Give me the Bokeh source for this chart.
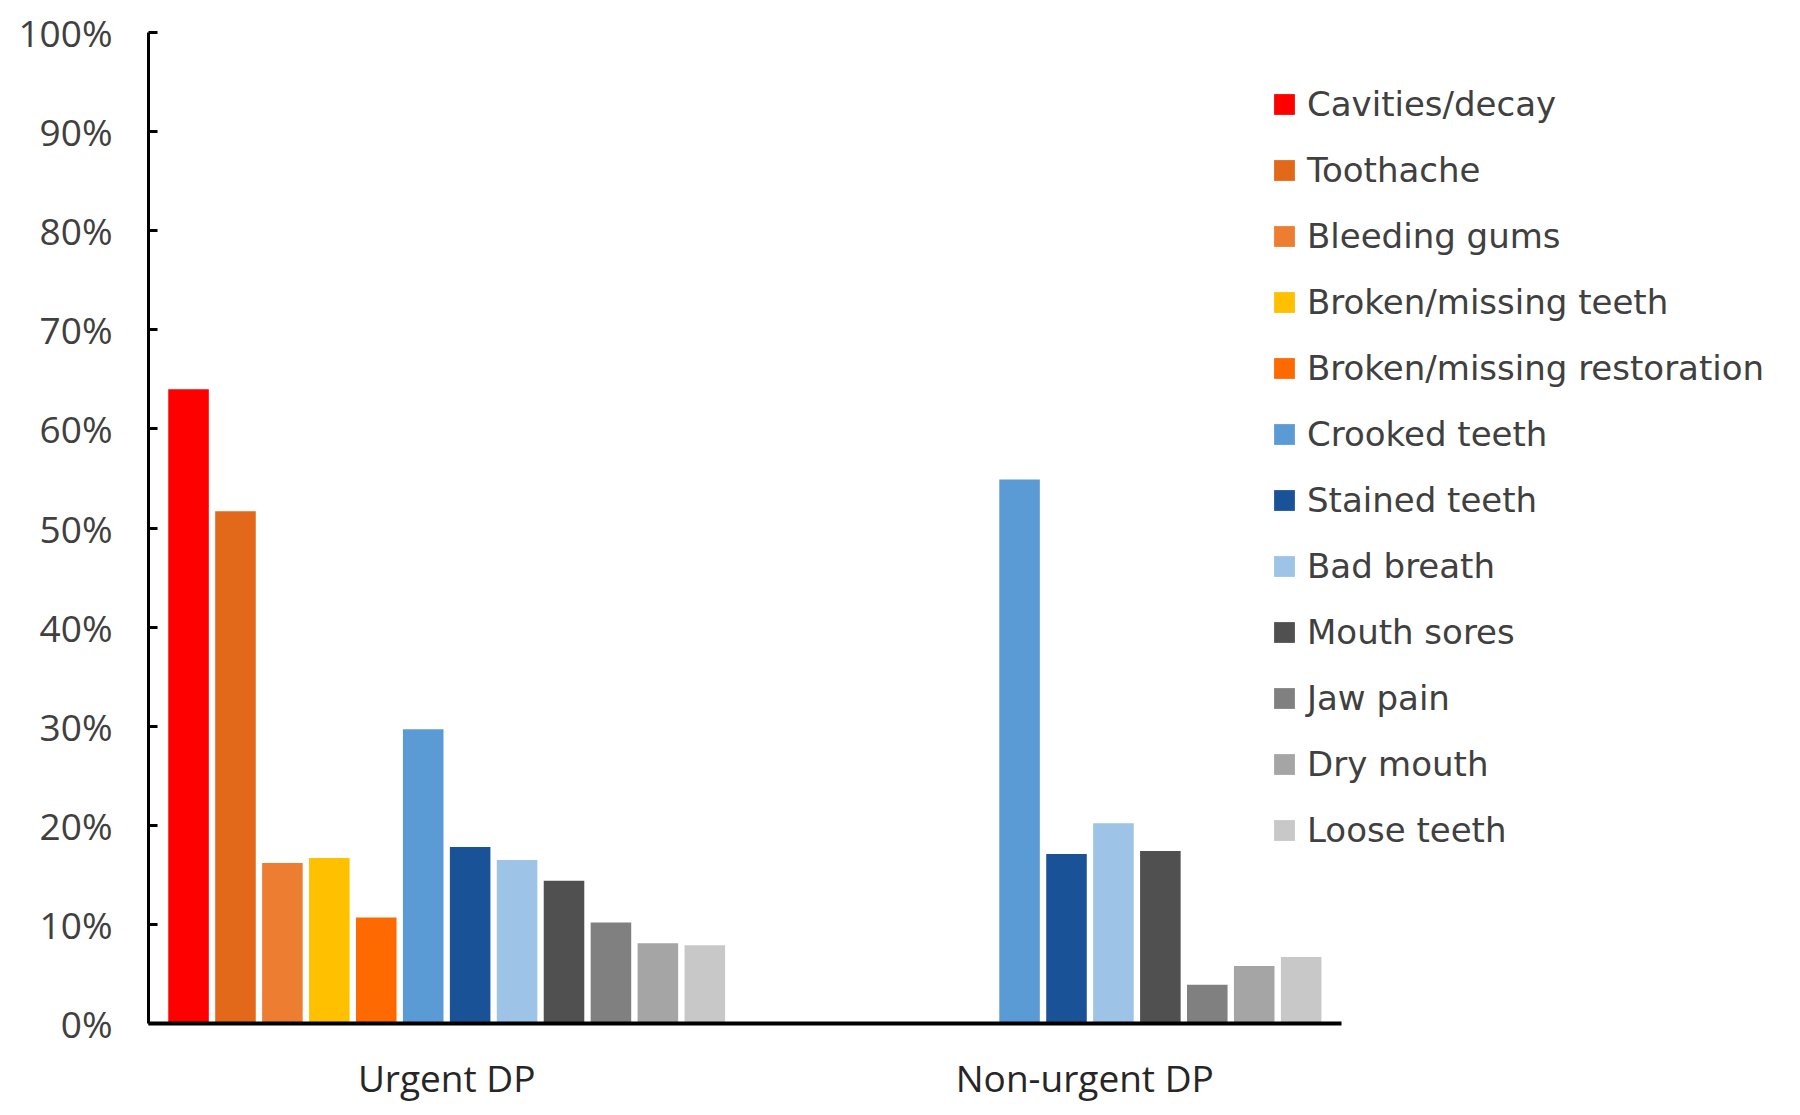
from bokeh.plotting import figure
from bokeh.models import Range1d, FixedTicker, NumeralTickFormatter, Legend, LegendItem, ColumnDataSource
from bokeh.embed import file_html
from bokeh.resources import INLINE

groups = ["Urgent DP", "Non-urgent DP"]
series = ["Cavities/decay", "Toothache", "Bleeding gums", "Broken/missing teeth",
          "Broken/missing restoration", "Crooked teeth", "Stained teeth", "Bad breath",
          "Mouth sores", "Jaw pain", "Dry mouth", "Loose teeth"]
urgent = [64.0, 51.7, 16.2, 16.7, 10.7, 29.7, 17.8, 16.5, 14.4, 10.2, 8.1, 7.9]
non_urgent = [0.0, 0.0, 0.0, 0.0, 0.0, 54.9, 17.1, 20.2, 17.4, 3.9, 5.8, 6.7]
colors = ["#FF0000", "#E2681A", "#ED7D31", "#FFC000", "#FF6A00", "#5B9BD5",
          "#1A5298", "#9DC3E6", "#505050", "#808080", "#A5A5A5", "#C8C8C8"]
y_ticks = [i / 10 for i in range(11)]

FONT = "Open Sans"
LEGEND_FONT = "DejaVu Sans"
slot = 0.0787
bar_w = 0.068
label_shift = [0.0, 0.07]

p = figure(width=1792, height=1107, output_backend="svg", toolbar_location=None,
           x_range=Range1d(0, 2.74), y_range=Range1d(0, 1),
           min_border_left=148, min_border_right=10, min_border_top=32, min_border_bottom=84)
p.outline_line_color = None
p.xgrid.visible = False
p.ygrid.visible = False
p.background_fill_color = "white"
p.border_fill_color = "white"

n = len(series)
items = []
for i, name in enumerate(series):
    off = (i - (n - 1) / 2) * slot
    src = ColumnDataSource(dict(x=[g + 0.5 + off for g in range(len(groups))],
                                top=[urgent[i] / 100, non_urgent[i] / 100]))
    r = p.vbar(x="x", top="top", width=bar_w, bottom=0, source=src,
               fill_color=colors[i], line_color=None)
    items.append(LegendItem(label=name, renderers=[r]))

# y axis
ya = p.yaxis[0]
ya.ticker = FixedTicker(ticks=y_ticks)
ya.formatter = NumeralTickFormatter(format="0%")
ya.axis_line_color = "black"
ya.axis_line_width = 3
ya.major_tick_in = 9
ya.major_tick_out = 0
ya.major_tick_line_color = "black"
ya.major_tick_line_width = 3
ya.minor_tick_line_color = None
ya.major_label_text_font = FONT
ya.major_label_text_font_size = "37px"
ya.major_label_text_color = "#404040"
ya.major_label_standoff = 36

# x axis (line limited to the two categories)
xa = p.xaxis[0]
xa.bounds = (0, len(groups))
ticks = [g + 0.5 + label_shift[g] for g in range(len(groups))]
xa.ticker = FixedTicker(ticks=ticks)
xa.major_label_overrides = {t: groups[g] for g, t in enumerate(ticks)}
xa.axis_line_color = "black"
xa.axis_line_width = 4
xa.major_tick_line_color = None
xa.minor_tick_line_color = None
xa.major_label_text_font = FONT
xa.major_label_text_font_size = "37px"
xa.major_label_text_color = "#262626"
xa.major_label_standoff = 22

legend = Legend(items=items, location=(1123, 160))
legend.label_text_font = LEGEND_FONT
legend.label_text_font_size = "34px"
legend.label_text_color = "#404040"
legend.glyph_width = 26
legend.glyph_height = 26
legend.label_height = 66
legend.spacing = 0
legend.padding = 0
legend.margin = 0
legend.label_standoff = 10
legend.border_line_color = None
legend.background_fill_alpha = 0
p.add_layout(legend, "center")

open("out.html", "w").write(file_html(p, INLINE))
